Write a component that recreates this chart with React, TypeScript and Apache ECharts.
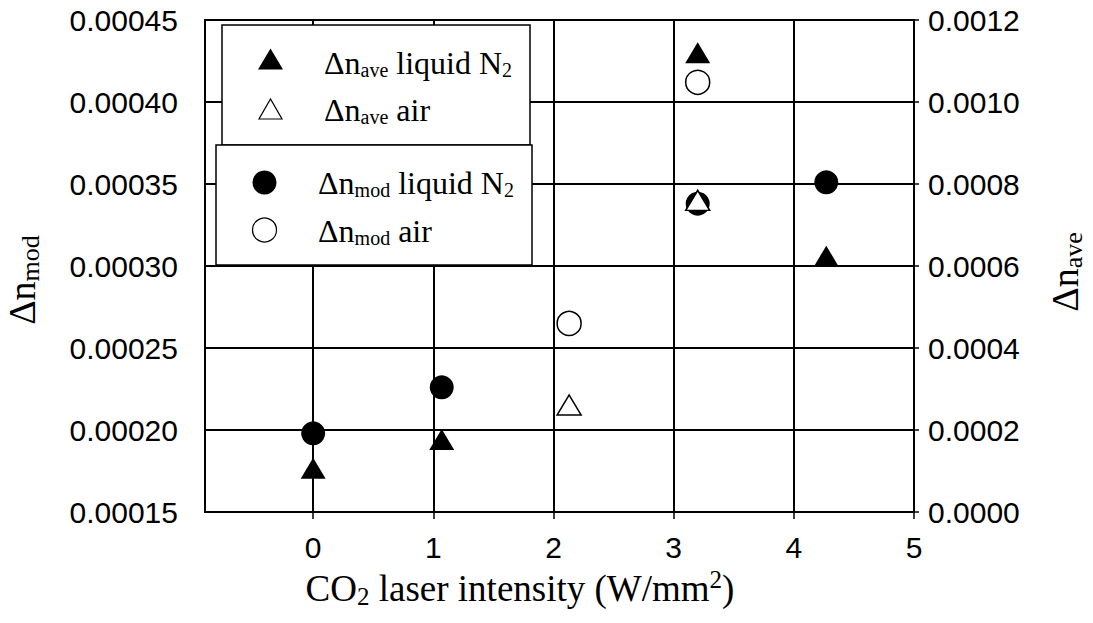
import React, { useEffect, useRef } from "react";
import * as echarts from "echarts";

const xTicks = [0, 1, 2, 3, 4, 5];

const modLiquidX = [0, 1.07, 3.2, 4.27];
const modLiquidY = [0.000198, 0.000226, 0.000338, 0.000351];
const modAirX = [2.13, 3.2];
const modAirY = [0.000265, 0.000412];
const aveLiquidX = [0, 1.07, 3.2, 4.27];
const aveLiquidY = [0.000107, 0.000177, 0.00112, 0.000624];
const aveAirX = [2.13, 3.2];
const aveAirY = [0.000261, 0.00076];

const zip = (xs: number[], ys: number[]) => xs.map((x, i) => [x, ys[i]]);

const SERIF = "'Liberation Serif', 'Times New Roman', serif";
const SANS = "'Liberation Sans', Arial, sans-serif";

const legendRich = {
  m: { fontFamily: SERIF, fontSize: 32, lineHeight: 34, color: "#000" },
  s: { fontFamily: SERIF, fontSize: 20, lineHeight: 16, verticalAlign: "bottom", color: "#000" },
};

const titleRich = {
  m: { fontFamily: SERIF, fontSize: 37, lineHeight: 42, color: "#000" },
  s: { fontFamily: SERIF, fontSize: 25, lineHeight: 14, verticalAlign: "bottom", color: "#000" },
  p: { fontFamily: SERIF, fontSize: 25, lineHeight: 25, verticalAlign: "top", color: "#000" },
};

const yTitleRich = {
  m: { fontFamily: SERIF, fontSize: 38, lineHeight: 42, color: "#000" },
  s: { fontFamily: SERIF, fontSize: 26, lineHeight: 14, verticalAlign: "bottom", color: "#000" },
};

export default function App() {
  const ref = useRef<HTMLDivElement>(null);
  useEffect(() => {
    const chart = echarts.init(ref.current!, null, { renderer: "svg" });
    const black = { color: "#000", width: 2 };
    chart.setOption({
      animation: false,
      backgroundColor: "#fff",
      grid: {
        left: 205,
        right: 179,
        top: 20,
        bottom: 111,
        show: true,
        borderColor: "#000",
        borderWidth: 2,
      },
      xAxis: {
        type: "value",
        min: -0.9,
        max: 5,
        axisLine: { show: true, onZero: false, lineStyle: black },
        axisTick: { show: true, customValues: xTicks, length: 7, lineStyle: { color: "#000", width: 1.5 } },
        axisLabel: { customValues: xTicks, margin: 20, fontSize: 30, fontFamily: SANS, color: "#000" },
        splitLine: { show: true, lineStyle: black },
      },
      yAxis: [
        {
          type: "value",
          position: "left",
          min: 0.00015,
          max: 0.00045,
          interval: 0.00005,
          axisLine: { show: true, lineStyle: black },
          axisTick: { show: true, length: 8, lineStyle: { color: "#000", width: 1.5 } },
          axisLabel: {
            formatter: (v: number) => v.toFixed(5),
            margin: 27,
            fontSize: 30,
            fontFamily: SANS,
            color: "#000",
          },
          splitLine: { show: true, lineStyle: black },
        },
        {
          type: "value",
          position: "right",
          min: 0,
          max: 0.0012,
          interval: 0.0002,
          axisLine: { show: true, lineStyle: black },
          axisTick: { show: true, length: 5, lineStyle: { color: "#000", width: 1.5 } },
          axisLabel: {
            formatter: (v: number) => v.toFixed(4),
            margin: 14,
            fontSize: 30,
            fontFamily: SANS,
            color: "#000",
          },
          splitLine: { show: false },
        },
      ],
      series: [
        {
          name: "Δn mod liquid N2",
          type: "scatter",
          yAxisIndex: 0,
          symbol: "circle",
          symbolSize: 24,
          itemStyle: { color: "#000", opacity: 1 },
          data: zip(modLiquidX, modLiquidY),
        },
        {
          name: "Δn mod air",
          type: "scatter",
          yAxisIndex: 0,
          symbol: "circle",
          symbolSize: 24,
          itemStyle: { color: "#fff", borderColor: "#000", borderWidth: 1.5, opacity: 1 },
          data: zip(modAirX, modAirY),
        },
        {
          name: "Δn ave liquid N2",
          type: "scatter",
          yAxisIndex: 1,
          symbol: "triangle",
          symbolSize: [25, 21],
          itemStyle: { color: "#000", opacity: 1 },
          data: zip(aveLiquidX, aveLiquidY),
        },
        {
          name: "Δn ave air",
          type: "scatter",
          yAxisIndex: 1,
          symbol: "triangle",
          symbolSize: [24, 20],
          itemStyle: { color: "#fff", borderColor: "#000", borderWidth: 1.5, opacity: 1 },
          data: zip(aveAirX, aveAirY),
        },
      ],
      graphic: [
        {
          type: "rect",
          shape: { x: 222, y: 25, width: 308, height: 120 },
          style: { fill: "#fff", stroke: "#000", lineWidth: 1.5 },
          z: 10,
        },
        {
          type: "rect",
          shape: { x: 216, y: 145, width: 316, height: 120 },
          style: { fill: "#fff", stroke: "#000", lineWidth: 1.5 },
          z: 10,
        },
        {
          type: "polygon",
          shape: { points: [[258, 69.5], [283, 69.5], [270.5, 48.5]] },
          style: { fill: "#000" },
          z: 11,
        },
        {
          type: "polygon",
          shape: { points: [[259, 119], [282, 119], [270.5, 99]] },
          style: { fill: "#fff", stroke: "#000", lineWidth: 1.2 },
          z: 11,
        },
        {
          type: "circle",
          shape: { cx: 264.5, cy: 182.5, r: 12 },
          style: { fill: "#000" },
          z: 11,
        },
        {
          type: "circle",
          shape: { cx: 264.5, cy: 230, r: 12 },
          style: { fill: "#fff", stroke: "#000", lineWidth: 1.2 },
          z: 11,
        },
        {
          type: "text",
          x: 324,
          y: 63,
          z: 11,
          style: { text: "{m|Δn}{s|ave}{m| liquid N}{s|2}", rich: legendRich, verticalAlign: "middle", align: "left" },
        },
        {
          type: "text",
          x: 324,
          y: 110,
          z: 11,
          style: { text: "{m|Δn}{s|ave}{m| air}", rich: legendRich, verticalAlign: "middle", align: "left" },
        },
        {
          type: "text",
          x: 318,
          y: 183,
          z: 11,
          style: { text: "{m|Δn}{s|mod}{m| liquid N}{s|2}", rich: legendRich, verticalAlign: "middle", align: "left" },
        },
        {
          type: "text",
          x: 318,
          y: 230.5,
          z: 11,
          style: { text: "{m|Δn}{s|mod}{m| air}", rich: legendRich, verticalAlign: "middle", align: "left" },
        },
        {
          type: "text",
          x: 520,
          y: 588,
          z: 11,
          style: {
            text: "{m|CO}{s|2}{m| laser intensity (W/mm}{p|2}{m|)}",
            rich: titleRich,
            verticalAlign: "middle",
            align: "center",
          },
        },
        {
          type: "text",
          x: 22,
          y: 280,
          rotation: Math.PI / 2,
          z: 11,
          style: { text: "{m|Δn}{s|mod}", rich: yTitleRich, verticalAlign: "middle", align: "center" },
        },
        {
          type: "text",
          x: 1065,
          y: 272,
          rotation: Math.PI / 2,
          z: 11,
          style: { text: "{m|Δn}{s|ave}", rich: yTitleRich, verticalAlign: "middle", align: "center" },
        },
      ],
    });
    return () => chart.dispose();
  }, []);
  return (
    <div
      ref={ref}
      style={{ position: "fixed", left: 0, top: 0, width: 1093, height: 623, background: "#fff" }}
    />
  );
}
